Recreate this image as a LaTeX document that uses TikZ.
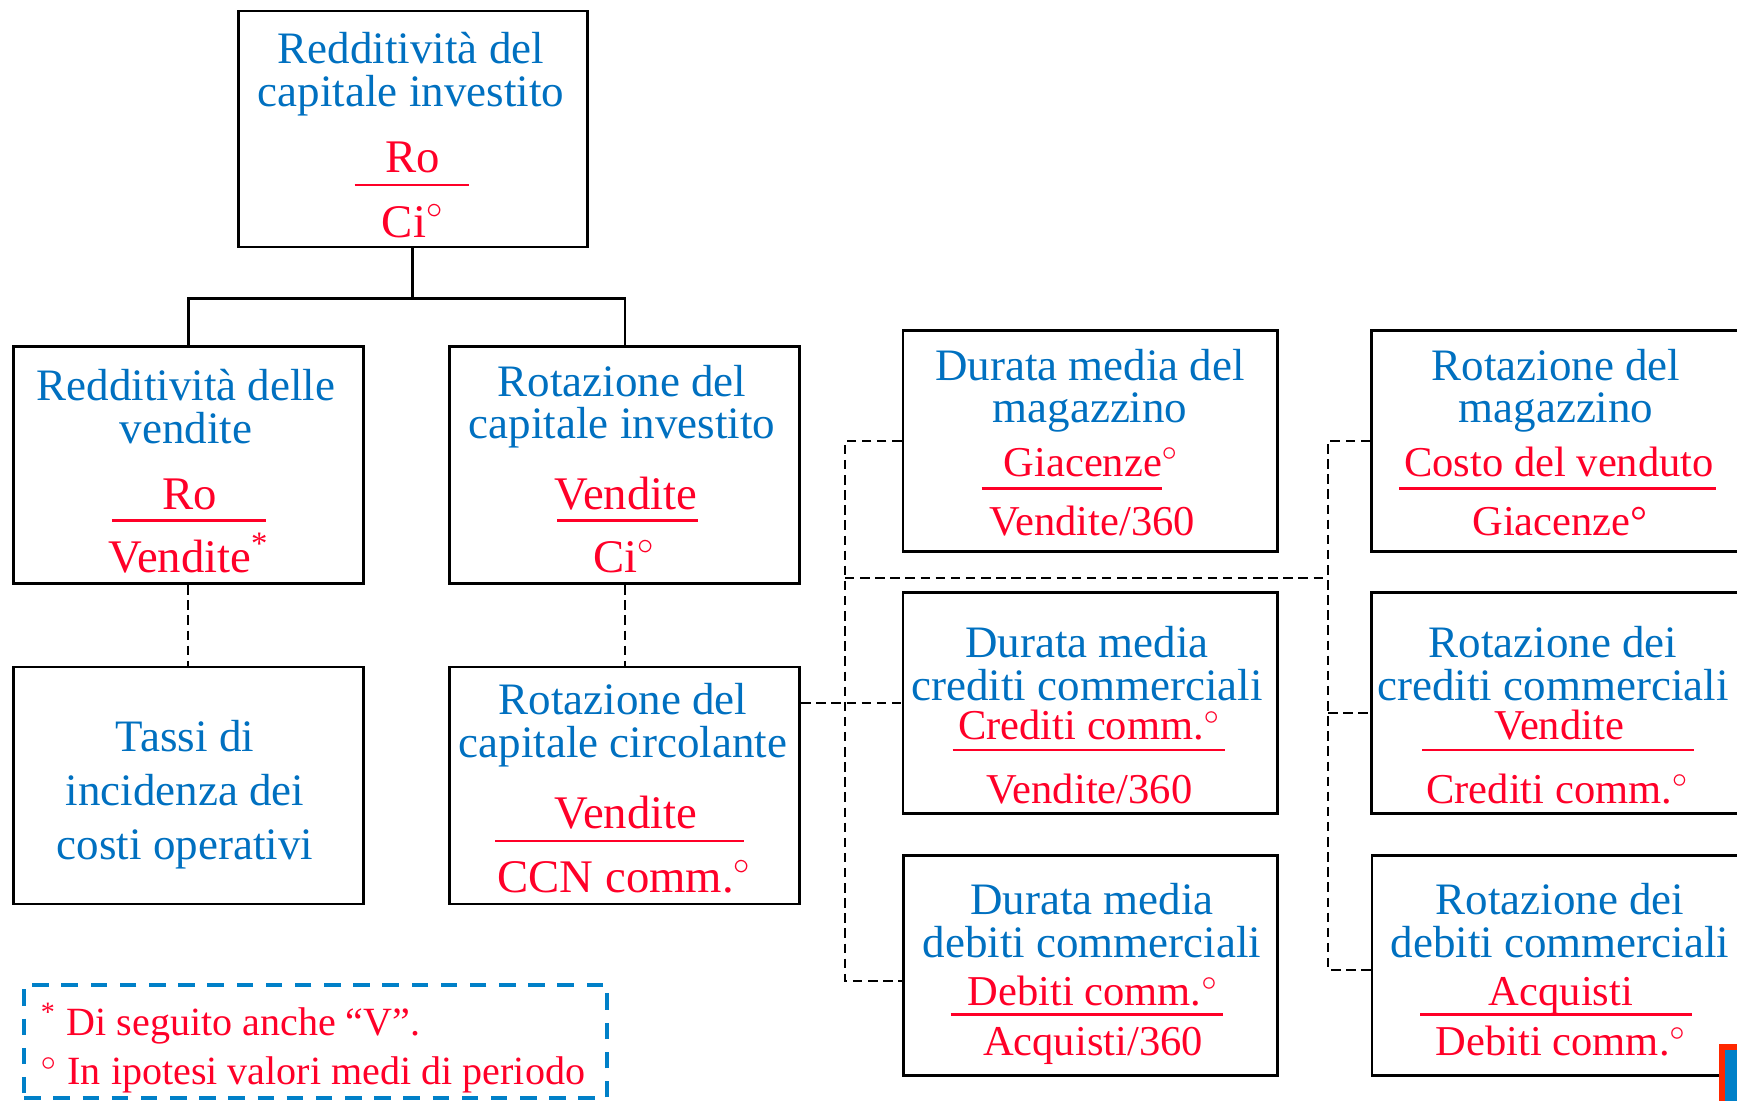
\documentclass[tikz,border=0pt]{standalone}
\usepackage{fontspec}
\setmainfont{Liberation Serif}
\usetikzlibrary{positioning, calc}
\definecolor{ttlblue}{RGB}{0,112,192}
\definecolor{fracred}{RGB}{255,0,40}
\definecolor{noteblue}{RGB}{0,128,200}
\definecolor{cornerred}{RGB}{255,40,0}

\begin{document}
\begin{tikzpicture}[
    box/.style={draw, line width=0.8pt, minimum width=3.5cm, minimum height=2.37cm, inner sep=0pt},
    wbox/.style={box, minimum width=3.744cm, minimum height=2.205cm},
    ttl/.style={text=ttlblue, align=center, font=\fontsize{12.8}{12.2}\selectfont, inner sep=0pt, yshift=-0.35mm},
    num/.style={text=fracred, anchor=base, font=\fontsize{13.3}{14}\selectfont, inner sep=0pt, yshift=-0.35mm},
    wnum/.style={num, font=\fontsize{12.1}{14}\selectfont},
    bar/.style={fracred, line width=0.7pt},
    link/.style={line width=0.7pt},
    dlink/.style={line width=0.6pt, dash pattern=on 2.7pt off 1.6pt},
    legbox/.style={draw=noteblue, line width=1.1pt, dash pattern=on 4.7pt off 3.6pt,
        minimum width=5.83cm, minimum height=1.13cm}
]
    \useasboundingbox (0,0) rectangle (17.37,-11.01);

    % redditivita del capitale investito
    \node[box, minimum width=3.49cm, minimum height=2.36cm] (roi) at (4.126,-1.290) {};
    \node[ttl] (roiT) at (4.11,-0.704) {Redditività del\\capitale investito};
    \node[num] (roiN) at (4.13,-1.693) {Ro};
    \draw[bar] (3.545,-1.850) -- (4.686,-1.850);
    \node[num] (roiD) at (4.13,-2.336) {Ci$^\circ$};

    % second row
    \node[box] (ros) at (1.883,-4.653) {};
    \node[ttl] (rosT) at (1.86,-4.032) {Redditività delle\\vendite};
    \node[num] (rosN) at (1.894,-5.061) {Ro};
    \draw[bar] (1.119,-5.207) -- (2.659,-5.207);
    \node[num] (rosD) at (1.889,-5.692) {Vendite\textsuperscript{*}};

    \node[box] (rot) at (6.248,-4.653) {};
    \node[ttl] (rotT) at (6.22,-4.032) {Rotazione del\\capitale investito};
    \node[num] (rotN) at (6.26,-5.061) {Vendite};
    \draw[bar] (5.572,-5.207) -- (6.979,-5.207);
    \node[num] (rotD) at (6.248,-5.692) {Ci$^\circ$};

    % third row
    \node[box] (inc) at (1.883,-7.855) {};
    \node[ttl, font=\fontsize{12.8}{15.3}\selectfont] (incT) at (1.85,-7.91) {Tassi di\\incidenza dei\\costi operativi};

    \node[box] (ccn) at (6.248,-7.855) {};
    \node[ttl] (ccnT) at (6.23,-7.217) {Rotazione del\\capitale circolante};
    \node[num] (ccnN) at (6.26,-8.251) {Vendite};
    \draw[bar] (4.952,-8.408) -- (7.444,-8.408);
    \node[num] (ccnD) at (6.248,-8.894) {CCN comm.$^\circ$};

    % durate medie
    \node[wbox] (dmag) at (10.901,-4.409) {};
    \node[ttl] (dmagT) at (10.90,-3.872) {Durata media del\\magazzino};
    \node[wnum] (dmagN) at (10.912,-4.728) {Giacenze$^\circ$};
    \draw[bar] (9.815,-4.885) -- (11.621,-4.885);
    \node[wnum] (dmagD) at (10.92,-5.316) {Vendite/360};

    \node[wbox] (dcre) at (10.901,-7.029) {};
    \node[ttl] (dcreT) at (10.87,-6.602) {Durata media\\crediti commerciali};
    \node[wnum] (dcreN) at (10.895,-7.365) {Crediti comm.$^\circ$};
    \draw[bar] (9.527,-7.500) -- (12.252,-7.500);
    \node[wnum] (dcreD) at (10.895,-7.997) {Vendite/360};

    \node[wbox] (ddeb) at (10.906,-9.655) {};
    \node[ttl] (ddebT) at (10.92,-9.173) {Durata media\\debiti commerciali};
    \node[wnum] (ddebN) at (10.93,-10.024) {Debiti comm.$^\circ$};
    \draw[bar] (9.505,-10.147) -- (12.230,-10.147);
    \node[wnum] (ddebD) at (10.93,-10.522) {Acquisti/360};

    % rotazioni
    \node[wbox] (rmag) at (15.587,-4.409) {};
    \node[ttl] (rmagT) at (15.56,-3.872) {Rotazione del\\magazzino};
    \node[wnum] (rmagN) at (15.59,-4.728) {Costo del venduto};
    \draw[bar] (13.991,-4.885) -- (17.160,-4.885);
    \node[wnum] (rmagD) at (15.60,-5.316) {Giacenze°};

    \node[wbox] (rcre) at (15.587,-7.029) {};
    \node[ttl] (rcreT) at (15.53,-6.602) {Rotazione dei\\crediti commerciali};
    \node[wnum] (rcreN) at (15.59,-7.365) {Vendite};
    \draw[bar] (14.224,-7.500) -- (16.938,-7.500);
    \node[wnum] (rcreD) at (15.576,-7.997) {Crediti comm.$^\circ$};

    \node[wbox] (rdeb) at (15.592,-9.655) {};
    \node[ttl] (rdebT) at (15.60,-9.173) {Rotazione dei\\debiti commerciali};
    \node[wnum] (rdebN) at (15.61,-10.024) {Acquisti};
    \draw[bar] (14.202,-10.147) -- (16.916,-10.147);
    \node[wnum] (rdebD) at (15.61,-10.522) {Debiti comm.$^\circ$};

    % connectors
    \draw[link] (roi.south) -- ++(0,-0.5) coordinate (split);
    \draw[link] (ros.north) |- (split) -| (rot.north);
    \draw[dlink] (ros.south) -- (inc.north);
    \draw[dlink] (rot.south) -- (ccn.north);
    \coordinate (lbus) at (8.45,-5.78);
    \coordinate (rbus) at (13.28,-5.78);
    \draw[dlink] (ccn.east |- dcre.west) -- (dcre.west);
    \draw[dlink] (dmag.west) -| (lbus) |- ([yshift=-1.55mm]ddeb.west);
    \draw[dlink] (lbus) -- (rbus);
    \draw[dlink] (rmag.west) -| (rbus) |- ([yshift=-0.45mm]rdeb.west);
    \draw[dlink] ([yshift=-1mm]rcre.west -| rbus) -- ([yshift=-1mm]rcre.west);

    % legenda
    \node[legbox] (note) at (3.157,-10.414) {};
    \node[text=fracred, align=left, font=\fontsize{11.4}{13.9}\selectfont, inner sep=0pt] (noteT) at (3.13,-10.48)
        {\textsuperscript{*} Di seguito anche “V”.\\$^\circ$ In ipotesi valori medi di periodo};

    \fill[cornerred] (17.19,-10.44) rectangle (17.6,-11.2);
    \fill[noteblue] (17.25,-10.50) rectangle (17.6,-11.2);
\end{tikzpicture}
\end{document}
